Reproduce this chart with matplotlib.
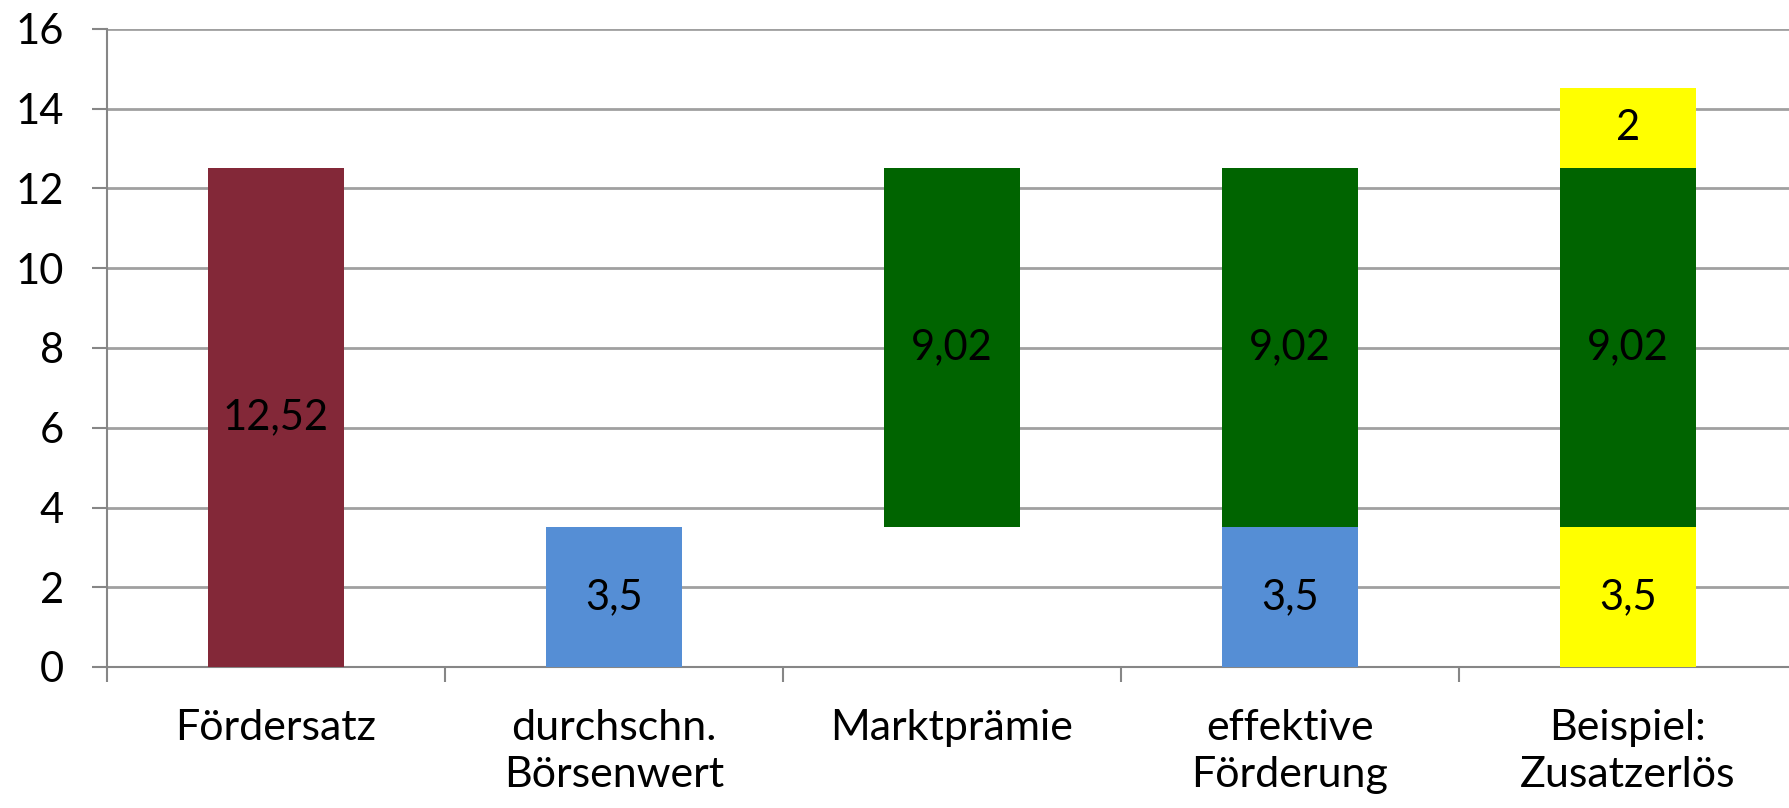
import matplotlib.pyplot as plt

# Categories and stacked segments (ct/kWh)
categories = ["Fördersatz", "durchschn.\nBörsenwert", "Marktprämie",
              "effektive\nFörderung", "Beispiel:\nZusatzerlös"]
base_values = [12.52, 3.5, 3.5, 3.5, 3.5]
premium_values = [0, 0, 9.02, 9.02, 9.02]
extra_values = [0, 0, 0, 0, 2]

base_labels = ["12,52", "3,5", "", "3,5", "3,5"]
premium_labels = ["", "", "9,02", "9,02", "9,02"]
extra_labels = ["", "", "", "", "2"]

base_colors = ["#832838", "#558ED5", "none", "#558ED5", "#FFFF00"]
premium_color = "#006400"
extra_color = "#FFFF00"


def create_visualization():
    plt.rcParams['font.family'] = ['Lato', 'DejaVu Sans']
    fig = plt.figure(figsize=(17.89, 8.08), dpi=100)
    ax = fig.add_axes([107 / 1789, 141 / 808, 1690 / 1789, 638 / 808])

    x = list(range(len(categories)))
    w = 0.4
    b1 = ax.bar(x, base_values, width=w, color=base_colors, zorder=3)
    b2 = ax.bar(x, premium_values, width=w, bottom=base_values,
                color=premium_color, zorder=3)
    bottoms = [a + b for a, b in zip(base_values, premium_values)]
    b3 = ax.bar(x, extra_values, width=w, bottom=bottoms,
                color=extra_color, zorder=3)

    ax.bar_label(b1, labels=base_labels, label_type='center', fontsize=30)
    ax.bar_label(b2, labels=premium_labels, label_type='center', fontsize=30)
    ax.bar_label(b3, labels=extra_labels, label_type='center', fontsize=30)

    ax.set_xlim(-0.5, len(categories) - 0.5)
    ax.set_ylim(0, 16)
    ax.set_yticks(range(0, 17, 2))
    ax.yaxis.grid(True, color="#A0A0A0", linewidth=2, zorder=0)

    ax.set_xticks([i - 0.5 for i in range(len(categories) + 1)])
    ax.set_xticklabels([])
    ax.set_xticks(x, minor=True)
    ax.set_xticklabels(categories, minor=True, fontsize=31, linespacing=1.3)
    ax.tick_params(axis='x', which='major', length=11, width=1.5,
                   color="#868686")
    ax.tick_params(axis='x', which='minor', length=0, pad=30)
    ax.tick_params(axis='y', length=11, width=1.5, color="#868686",
                   labelsize=30, pad=20)

    for side in ["top", "right"]:
        ax.spines[side].set_visible(False)
    for side in ["left", "bottom"]:
        ax.spines[side].set_color("#868686")
        ax.spines[side].set_linewidth(1.5)

    plt.savefig("out.png", dpi=100)


if __name__ == "__main__":
    create_visualization()
